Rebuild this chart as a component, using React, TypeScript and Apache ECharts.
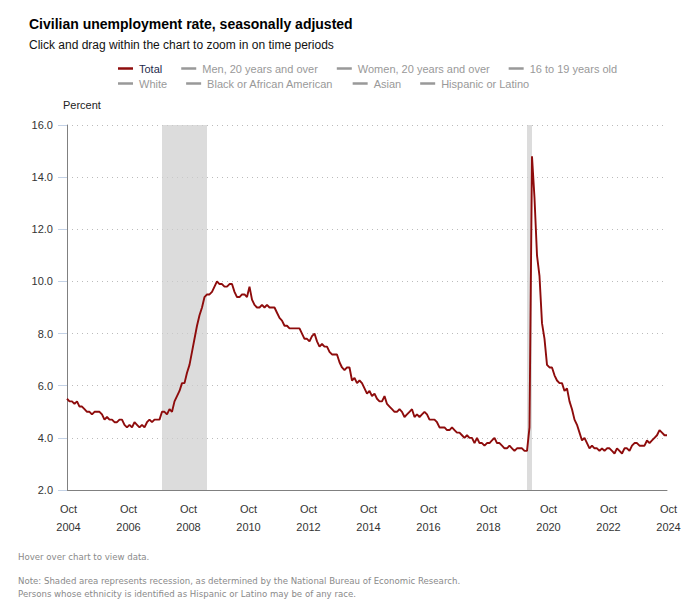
import React, { useEffect, useRef } from "react";
import * as echarts from "echarts";

const MONTH_NAMES = ["Jan", "Feb", "Mar", "Apr", "May", "Jun", "Jul", "Aug", "Sep", "Oct", "Nov", "Dec"];

// Civilian unemployment rate, seasonally adjusted, Oct 2004 - Oct 2024 (percent)
const rate2004 = [5.5, 5.4, 5.4]; // Oct-Dec
const rate2005 = [5.3, 5.4, 5.2, 5.2, 5.1, 5.0, 5.0, 4.9, 5.0, 5.0, 5.0, 4.9];
const rate2006 = [4.7, 4.8, 4.7, 4.7, 4.6, 4.6, 4.7, 4.7, 4.5, 4.4, 4.5, 4.4];
const rate2007 = [4.6, 4.5, 4.4, 4.5, 4.4, 4.6, 4.7, 4.6, 4.7, 4.7, 4.7, 5.0];
const rate2008 = [5.0, 4.9, 5.1, 5.0, 5.4, 5.6, 5.8, 6.1, 6.1, 6.5, 6.8, 7.3];
const rate2009 = [7.8, 8.3, 8.7, 9.0, 9.4, 9.5, 9.5, 9.6, 9.8, 10.0, 9.9, 9.9];
const rate2010 = [9.8, 9.8, 9.9, 9.9, 9.6, 9.4, 9.4, 9.5, 9.5, 9.4, 9.8, 9.3];
const rate2011 = [9.1, 9.0, 9.0, 9.1, 9.0, 9.1, 9.0, 9.0, 9.0, 8.8, 8.6, 8.5];
const rate2012 = [8.3, 8.3, 8.2, 8.2, 8.2, 8.2, 8.2, 8.0, 7.8, 7.8, 7.7, 7.9];
const rate2013 = [8.0, 7.7, 7.5, 7.6, 7.5, 7.5, 7.3, 7.2, 7.2, 7.2, 6.9, 6.7];
const rate2014 = [6.6, 6.7, 6.7, 6.2, 6.3, 6.1, 6.2, 6.1, 5.9, 5.7, 5.8, 5.6];
const rate2015 = [5.7, 5.5, 5.4, 5.4, 5.6, 5.3, 5.2, 5.1, 5.0, 5.0, 5.1, 5.0];
const rate2016 = [4.8, 4.9, 5.0, 5.1, 4.8, 4.9, 4.8, 4.9, 5.0, 4.9, 4.7, 4.7];
const rate2017 = [4.7, 4.6, 4.4, 4.4, 4.4, 4.3, 4.3, 4.4, 4.3, 4.2, 4.2, 4.1];
const rate2018 = [4.0, 4.1, 4.0, 4.0, 3.8, 4.0, 3.8, 3.8, 3.7, 3.8, 3.8, 3.9];
const rate2019 = [4.0, 3.8, 3.8, 3.7, 3.6, 3.6, 3.7, 3.6, 3.5, 3.6, 3.6, 3.6];
const rate2020 = [3.5, 3.5, 4.4, 14.8, 13.2, 11.0, 10.2, 8.4, 7.8, 6.8, 6.7, 6.7];
const rate2021 = [6.4, 6.2, 6.1, 6.1, 5.8, 5.9, 5.4, 5.1, 4.7, 4.5, 4.2, 3.9];
const rate2022 = [4.0, 3.8, 3.6, 3.7, 3.6, 3.6, 3.5, 3.6, 3.5, 3.6, 3.6, 3.5];
const rate2023 = [3.4, 3.6, 3.5, 3.4, 3.6, 3.6, 3.5, 3.7, 3.8, 3.8, 3.7, 3.7];
const rate2024 = [3.7, 3.9, 3.8, 3.9, 4.0, 4.1, 4.3, 4.2, 4.1, 4.1]; // Jan-Oct

const totalRate = [
  ...rate2004, ...rate2005, ...rate2006, ...rate2007, ...rate2008, ...rate2009,
  ...rate2010, ...rate2011, ...rate2012, ...rate2013, ...rate2014, ...rate2015,
  ...rate2016, ...rate2017, ...rate2018, ...rate2019, ...rate2020, ...rate2021,
  ...rate2022, ...rate2023, ...rate2024,
];

// Month categories "Oct 2004" ... "Oct 2024"
const categories: string[] = [];
for (let i = 0; i < totalRate.length; i++) {
  const m = (9 + i) % 12;
  const y = 2004 + Math.floor((9 + i) / 12);
  categories.push(`${MONTH_NAMES[m]} ${y}`);
}

const recessions = [
  ["Dec 2007", "Jun 2009"],
  ["Feb 2020", "Apr 2020"],
];

const legendRow1 = ["Total", "Men, 20 years and over", "Women, 20 years and over", "16 to 19 years old"];
const legendRow2 = ["White", "Black or African American", "Asian", "Hispanic or Latino"];

const yTicks = { min: 2, max: 16, interval: 2 };

const TITLE = "Civilian unemployment rate, seasonally adjusted";
const SUBTITLE = "Click and drag within the chart to zoom in on time periods";
const HOVER = "Hover over chart to view data.";
const NOTE1 = "Note: Shaded area represents recession, as determined by the National Bureau of Economic Research.";
const NOTE2 = "Persons whose ethnicity is identified as Hispanic or Latino may be of any race.";

const FONT = "Arial, 'Liberation Sans', sans-serif";
const NOTE_FONT = "'DejaVu Sans', Verdana, sans-serif";
const RED = "#8e0c0c";
const GREY = "#999999";

export default function App() {
  const ref = useRef<HTMLDivElement>(null);

  useEffect(() => {
    if (!ref.current) return;
    const chart = echarts.init(ref.current, undefined, { renderer: "svg" });

    const legendItem = (name: string) => ({
      name,
      textStyle: { color: name === "Total" ? "#1f2a4d" : GREY },
    });

    const otherSeries = [...legendRow1, ...legendRow2]
      .filter((n) => n !== "Total")
      .map((n) => ({
        name: n,
        type: "line",
        data: [],
        itemStyle: { color: GREY },
        lineStyle: { color: GREY },
        symbol: "none",
      }));

    const legendCommon = {
      left: 118,
      orient: "horizontal",
      icon: "rect",
      itemWidth: 15,
      itemHeight: 2.5,
      itemGap: 19,
      textStyle: { fontFamily: FONT, fontSize: 11, color: GREY, padding: [0, 0, 0, 1] },
      selectedMode: false,
      padding: 0,
    };

    chart.setOption({
      animation: false,
      textStyle: { fontFamily: FONT },
      legend: [
        { ...legendCommon, top: 63, data: legendRow1.map(legendItem) },
        { ...legendCommon, top: 78, data: legendRow2.map(legendItem) },
      ],
      grid: { left: 67, right: 19, top: 125, bottom: 115, containLabel: false },
      xAxis: {
        type: "category",
        data: categories,
        boundaryGap: false,
        axisLine: { show: true, lineStyle: { color: "#808080", width: 1 } },
        axisTick: { show: false },
        axisLabel: {
          interval: 23,
          color: "#333333",
          fontSize: 11,
          fontFamily: FONT,
          lineHeight: 18,
          margin: 10,
          padding: [0, 0, 0, 3],
          formatter: (v: string) => v.replace(" ", "\n"),
        },
        splitLine: { show: false },
      },
      yAxis: {
        type: "value",
        min: yTicks.min,
        max: yTicks.max,
        interval: yTicks.interval,
        axisLine: { show: true, lineStyle: { color: "#808080", width: 1 } },
        axisTick: { show: true, length: 9, lineStyle: { color: "#c4d2e6" } },
        axisLabel: {
          color: "#333333",
          fontSize: 11,
          fontFamily: FONT,
          margin: 14,
          formatter: (v: number) => v.toFixed(1),
        },
        splitLine: { show: true, lineStyle: { color: "#bbbbbb", type: [1, 4], width: 1 } },
      },
      series: [
        {
          name: "Total",
          type: "line",
          data: totalRate,
          symbol: "none",
          lineStyle: { color: RED, width: 1.9 },
          itemStyle: { color: RED },
          z: 3,
          markArea: {
            silent: true,
            itemStyle: { color: "rgba(205,205,205,0.7)" },
            data: recessions.map(([a, b]) => [{ xAxis: a }, { xAxis: b }]),
          },
        },
        ...otherSeries,
      ],
      graphic: [
        {
          type: "text",
          left: 29,
          top: 17,
          style: { text: TITLE, fontFamily: FONT, fontSize: 14, fontWeight: "bold", fill: "#000" },
        },
        {
          type: "text",
          left: 29,
          top: 39,
          style: { text: SUBTITLE, fontFamily: FONT, fontSize: 12, fill: "#111" },
        },
        {
          type: "text",
          left: 63,
          top: 99,
          style: { text: "Percent", fontFamily: FONT, fontSize: 11, fill: "#222" },
        },
        {
          type: "text",
          left: 18,
          top: 552,
          style: { text: HOVER, fontFamily: NOTE_FONT, fontSize: 8.6, fill: "#8a8a8a" },
        },
        {
          type: "text",
          left: 18,
          top: 576,
          style: { text: NOTE1, fontFamily: NOTE_FONT, fontSize: 8.6, fill: "#8a8a8a" },
        },
        {
          type: "text",
          left: 18,
          top: 589,
          style: { text: NOTE2, fontFamily: NOTE_FONT, fontSize: 8.6, fill: "#8a8a8a" },
        },
      ],
    });

    return () => chart.dispose();
  }, []);

  return (
    <div
      ref={ref}
      style={{ position: "absolute", left: 0, top: 0, width: 686, height: 605, background: "#fff" }}
    />
  );
}
